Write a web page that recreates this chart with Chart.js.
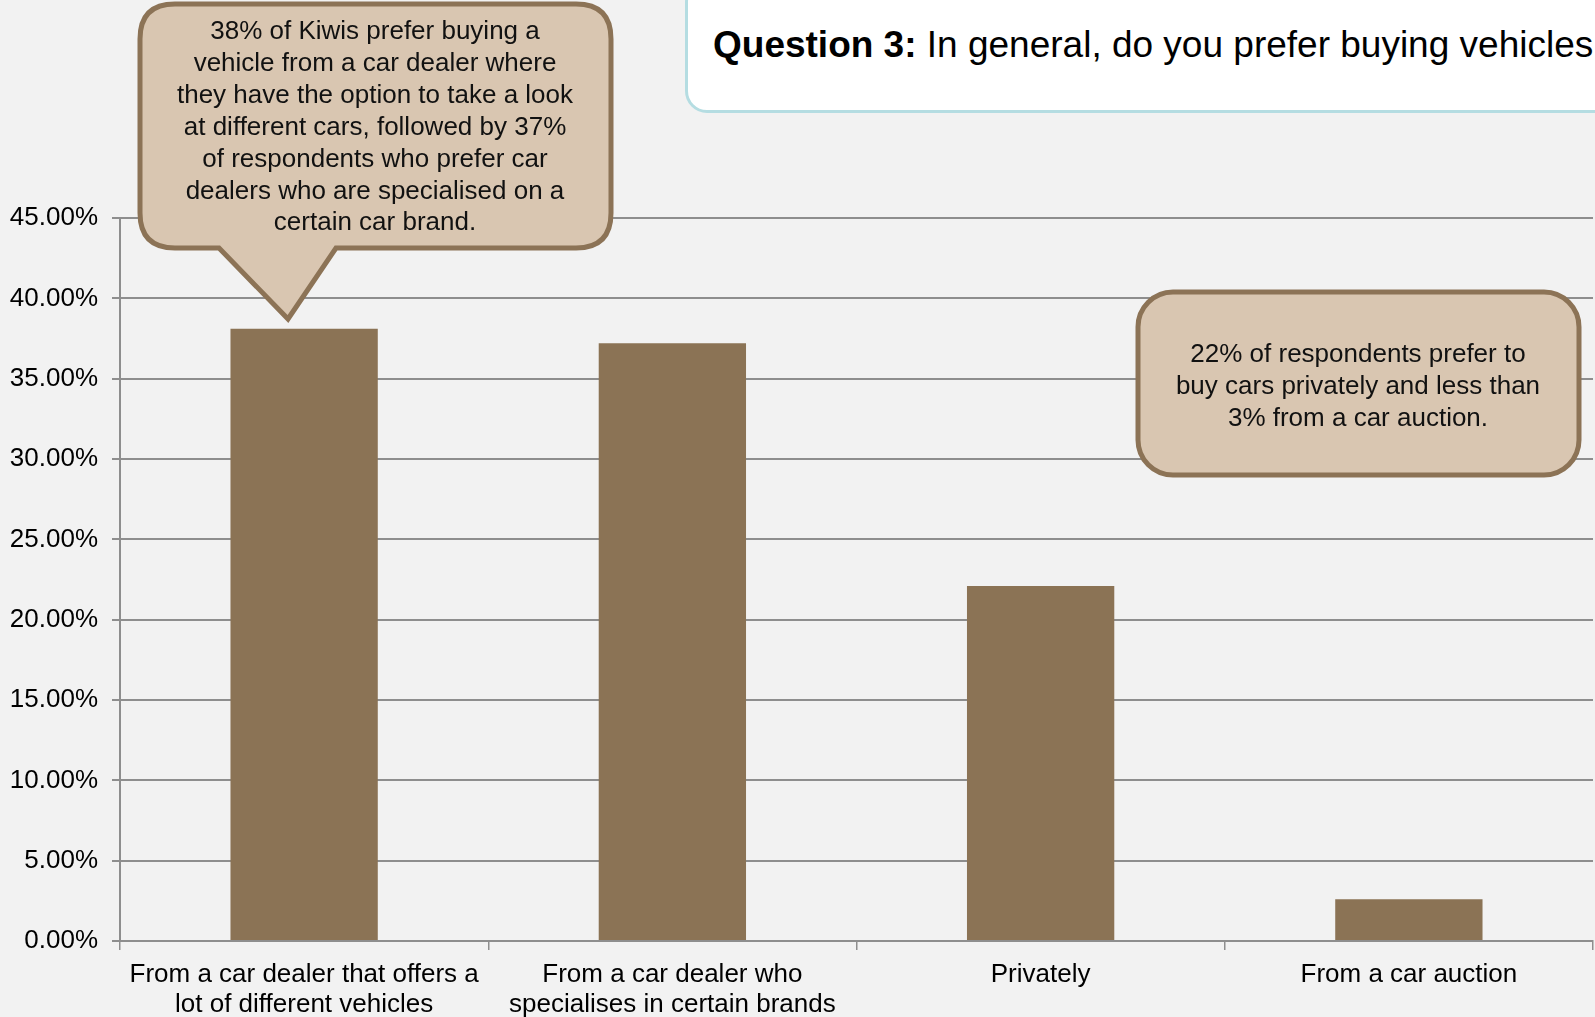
<!DOCTYPE html>
<html>
<head>
<meta charset="utf-8">
<script src="https://cdn.jsdelivr.net/npm/chart.js@4/dist/chart.umd.min.js"></script>
<style>
  html, body { margin: 0; padding: 0; background: #f2f2f2; overflow: hidden; }
  #wrap { position: relative; width: 1595px; height: 1017px; font-family: "Liberation Sans", Arial, sans-serif; }
  #chart { position: absolute; left: 0; top: 0; }
  .titlebox {
    position: absolute; left: 685px; top: -20px; width: 1000px; height: 127px;
    background: #fff; border: 3px solid #b5dde2; border-radius: 22px;
  }
  .titlebox span.t { position: absolute; left: 25px; top: 39px; font-size: 37px; line-height: 46px; color: #000; white-space: nowrap; }
  .callout-text { position: absolute; text-align: center; font-size: 26px; color: #111; }
  svg { position: absolute; left: 0; top: 0; }
</style>
</head>
<body>
<div id="wrap">
  <canvas id="chart" width="1595" height="1017"></canvas>
  <div class="titlebox"><span class="t"><b>Question 3:</b> In general, do you prefer buying vehicles</span></div>
  <svg width="1595" height="1017">
    <path d="M175,4 H576 Q611,4 611,39 V213 Q611,248 576,248 H336 L288,319 L219,248 H175 Q140,248 140,213 V39 Q140,4 175,4 Z"
          fill="#d9c6b1" stroke="#8c7356" stroke-width="5"/>
    <rect x="1138" y="292" width="441" height="183" rx="35" ry="35" fill="#d9c6b1" stroke="#8c7356" stroke-width="5"/>
  </svg>
  <div class="callout-text" style="left:145px; top:15px; width:460px; line-height:31.9px;">
    38% of Kiwis prefer buying a<br>vehicle from a car dealer where<br>they have the option to take a look<br>at different cars, followed by 37%<br>of respondents who prefer car<br>dealers who are specialised on a<br>certain car brand.
  </div>
  <div class="callout-text" style="left:1148px; top:337px; width:420px; line-height:32px;">
    22% of respondents prefer to<br>buy cars privately and less than<br>3% from a car auction.
  </div>
</div>
<script>
// data
const categories = [
  ["From a car dealer that offers a", "lot of different vehicles"],
  ["From a car dealer who", "specialises in certain brands"],
  "Privately",
  "From a car auction"
];
const shares = [38.1, 37.2, 22.1, 2.6];
const yMax = 45;
const yStep = 5;

const gridColor = "#8e8e8e";
const font = { family: "'Liberation Sans', Arial, sans-serif", size: 26 };

new Chart(document.getElementById("chart"), {
  type: "bar",
  data: {
    labels: categories,
    datasets: [
      {
        data: shares,
        backgroundColor: "#8b7355",
        categoryPercentage: 1,
        barPercentage: 0.4,
      },
    ],
  },
  options: {
    responsive: false,
    animation: false,
    layout: { padding: { top: 218, right: 2, left: 0, bottom: 0 } },
    plugins: {
      legend: { display: false },
      tooltip: { enabled: false },
    },
    scales: {
      x: {
        grid: { drawOnChartArea: false, drawTicks: true, tickLength: 9, color: gridColor, lineWidth: 1.5 },
        border: { color: gridColor, width: 2 },
        ticks: { color: "#000", font: { ...font, lineHeight: 1.14 }, maxRotation: 0, autoSkip: false, padding: 10 },
        afterFit: (s) => { s.height = 76; },
      },
      y: {
        min: 0,
        max: yMax,
        grid: { color: gridColor, lineWidth: 2, tickLength: 8 },
        border: { color: gridColor, width: 2 },
        ticks: {
          stepSize: yStep,
          color: "#000",
          font: font,
          padding: 14,
          callback: (v) => v.toFixed(2) + "%",
        },
        afterFit: (s) => { s.width = 120; },
      },
    },
  },
});
</script>
</body>
</html>
